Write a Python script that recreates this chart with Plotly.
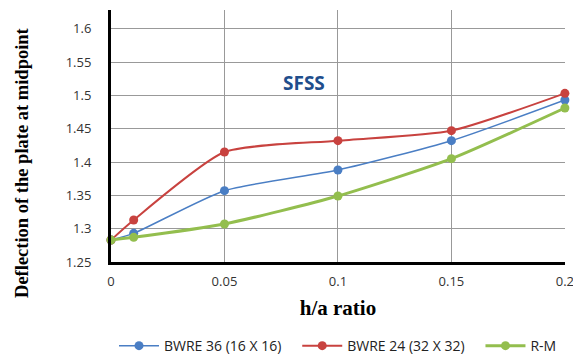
import plotly.graph_objects as go

x_vals = [0, 0.01, 0.05, 0.1, 0.15, 0.2]
bwre36 = [1.283, 1.293, 1.357, 1.388, 1.432, 1.493]
bwre24 = [1.283, 1.313, 1.415, 1.432, 1.447, 1.503]
rm = [1.283, 1.287, 1.307, 1.349, 1.405, 1.481]
x_ticks = [0, 0.05, 0.1, 0.15, 0.2]
x_tick_labels = ["0", "0.05", "0.1", "0.15", "0.2"]
y_ticks = [1.25, 1.3, 1.35, 1.4, 1.45, 1.5, 1.55, 1.6]
y_tick_labels = ["1.25", "1.3", "1.35", "1.4", "1.45", "1.5", "1.55", "1.6"]

pad = "\u00a0\u00a0\u00a0"
fig = go.Figure()
fig.add_trace(go.Scatter(x=x_vals, y=bwre36, name="BWRE 36 (16 X 16)" + pad, mode="lines+markers",
                         line=dict(color="#4A7EC4", width=1.5, shape="spline", smoothing=0.6),
                         marker=dict(size=9, color="#4A7EC4"), cliponaxis=False))
fig.add_trace(go.Scatter(x=x_vals, y=bwre24, name="BWRE 24 (32 X 32)" + pad, mode="lines+markers",
                         line=dict(color="#C8423F", width=2, shape="spline", smoothing=0.6),
                         marker=dict(size=9, color="#C8423F"), cliponaxis=False))
fig.add_trace(go.Scatter(x=x_vals, y=rm, name="R-M", mode="lines+markers",
                         line=dict(color="#93BE4E", width=3, shape="spline", smoothing=0.6),
                         marker=dict(size=9, color="#93BE4E"), cliponaxis=False))

fig.add_annotation(text="<b>SFSS</b>", x=0.085, y=1.518, xref="x", yref="y", showarrow=False,
                   font=dict(family="Open Sans", size=19, color="#1F4E8C"))
fig.add_annotation(text="<b>Deflection of the plate at midpoint</b>", textangle=-90,
                   x=-0.196, y=0.393, xref="paper", yref="paper", showarrow=False,
                   xanchor="center", yanchor="middle",
                   font=dict(family="Liberation Serif", size=18.5, color="black"))

fig.update_layout(
    width=573, height=356,
    margin=dict(l=111, r=8, t=10, b=94, autoexpand=False),
    plot_bgcolor="white", paper_bgcolor="white",
    showlegend=True,
    legend=dict(orientation="h", x=0.5, xanchor="center", y=-0.27, yanchor="top",
                font=dict(family="Open Sans", size=14, color="#222"), itemwidth=40),
    xaxis=dict(range=[0, 0.20005], tickvals=x_ticks, ticktext=x_tick_labels, automargin=False,
               ticklabeloverflow="allow",
               showgrid=True, gridcolor="#999", gridwidth=1,
               showline=True, linecolor="black", linewidth=3, zeroline=False,
               tickfont=dict(family="Open Sans", size=13, color="#333"), ticklabelstandoff=5,
               title=dict(text="<b>h/a ratio</b>", font=dict(family="Liberation Serif", size=21, color="black"), standoff=12)),
    yaxis=dict(range=[1.25, 1.628], tickvals=y_ticks, ticktext=y_tick_labels, automargin=False,
               showgrid=True, gridcolor="#999", gridwidth=1,
               showline=True, linecolor="black", linewidth=3, zeroline=False,
               tickfont=dict(family="Open Sans", size=13, color="#333"), ticks="", ticklabelstandoff=14),
)

fig.write_html("out.html", config={"displayModeBar": False},
               post_script="document.body.style.margin='0';document.body.style.overflow='hidden';")
